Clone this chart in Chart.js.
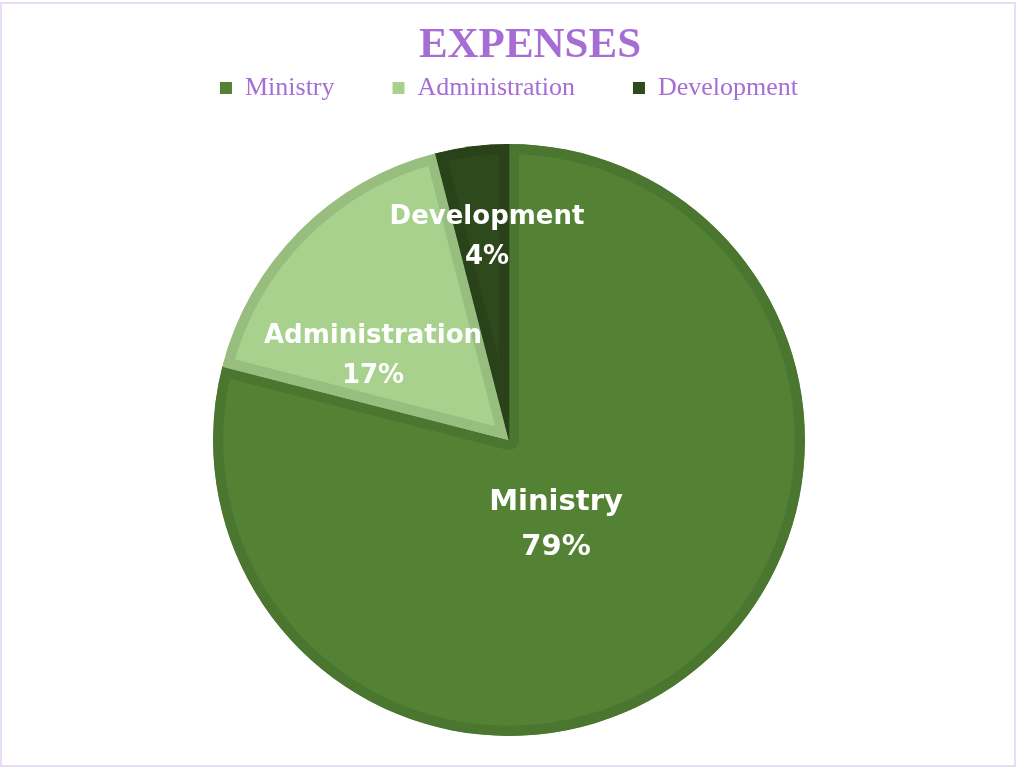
<!DOCTYPE html>
<html>
<head>
<meta charset="utf-8">
<script src="https://cdn.jsdelivr.net/npm/chart.js@4.4.1/dist/chart.umd.min.js"></script>
<style>
  html, body { margin: 0; padding: 0; background: #fff; }
  #frame {
    position: absolute; left: 0; top: 2px;
    width: 1012px; height: 761px;
    border: 2px solid #e8ddf4;
  }
  #wrap { position: absolute; left: -1px; top: -2px; width: 1016px; height: 767px; }
</style>
</head>
<body>
<div id="frame"><div id="wrap"><canvas id="chart"></canvas></div></div>
<script>
const CATEGORIES = ['Ministry', 'Administration', 'Development'];
const PERCENTS = [79, 17, 4];

const FILLS = ['#548235', '#a9d18e', '#2e4a1c'];
const EDGES = ['#4b7630', '#98be7f', '#2a4219'];
const PURPLE = '#a66dd4';

// label placement relative to the pie centre (Excel "best fit")
const LABEL_STYLE = [
  { dx: 47, dy: 62, size: 29, gap: 45 },
  { dx: -136, dy: -104, size: 26, gap: 40 },
  { dx: -22, dy: -223, size: 26, gap: 40 },
];

const titlePlugin = {
  id: 'sheetTitle',
  afterDraw(chart) {
    const ctx = chart.ctx;
    ctx.save();
    ctx.fillStyle = PURPLE;
    ctx.font = 'bold 43px "Liberation Serif", serif';
    ctx.textAlign = 'center';
    ctx.textBaseline = 'alphabetic';
    ctx.fillText('EXPENSES', 529, 55);
    ctx.restore();
  },
};

const labelPlugin = {
  id: 'sliceLabels',
  afterDatasetsDraw(chart) {
    const ctx = chart.ctx;
    const meta = chart.getDatasetMeta(0);
    const cx = meta.data[0].x, cy = meta.data[0].y;
    ctx.save();
    ctx.fillStyle = '#ffffff';
    ctx.textAlign = 'center';
    ctx.textBaseline = 'middle';
    meta.data.forEach((arc, i) => {
      const s = LABEL_STYLE[i];
      ctx.font = `bold ${s.size}px "DejaVu Sans", sans-serif`;
      const x = cx + s.dx;
      const y = cy + s.dy;
      ctx.fillText(CATEGORIES[i], x, y);
      ctx.fillText(PERCENTS[i] + '%', x, y + s.gap);
    });
    ctx.restore();
  },
};

new Chart(document.getElementById('chart'), {
  type: 'pie',
  data: {
    labels: CATEGORIES,
    datasets: [{
      data: PERCENTS,
      backgroundColor: FILLS,
      borderColor: EDGES,
      borderWidth: 10,
      borderAlign: 'inner',
      hoverOffset: 0,
    }],
  },
  options: {
    responsive: true,
    maintainAspectRatio: false,
    animation: false,
    radius: 296,
    layout: { padding: { top: 15, bottom: 0, left: 0, right: 0 } },
    plugins: {
      title: { display: false },
      tooltip: { enabled: false },
      legend: {
        position: 'top',
        labels: {
          color: PURPLE,
          boxWidth: 12,
          boxHeight: 12,
          padding: 58,
          font: { family: '"Liberation Serif", serif', size: 26 },
          generateLabels(chart) {
            return CATEGORIES.map((c, i) => ({
              text: c,
              fillStyle: FILLS[i],
              strokeStyle: FILLS[i],
              lineWidth: 0,
              fontColor: PURPLE,
              index: i,
            }));
          },
        },
      },
    },
  },
  plugins: [titlePlugin, labelPlugin],
});
</script>
</body>
</html>
